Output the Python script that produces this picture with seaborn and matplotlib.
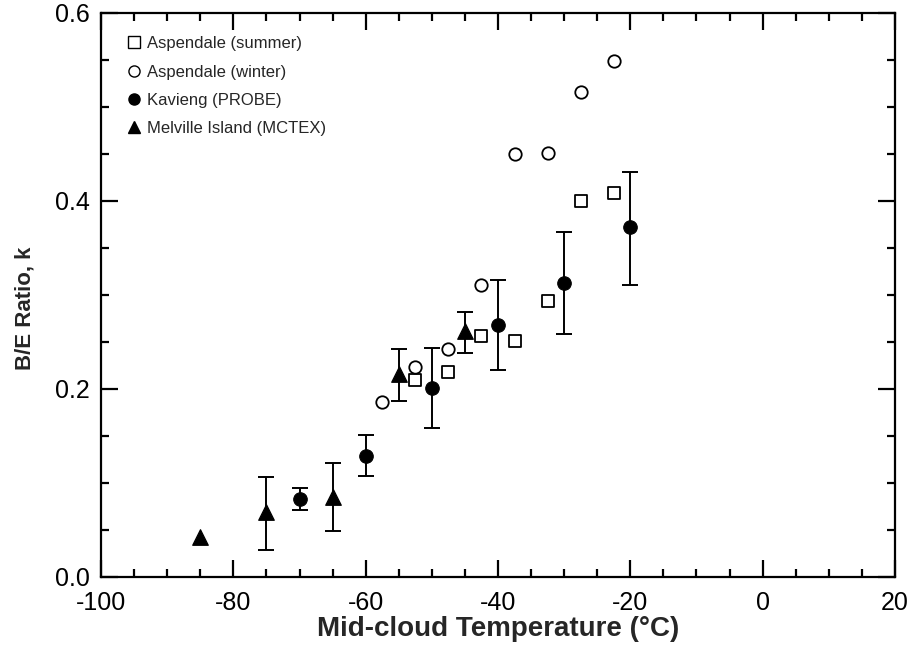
import matplotlib
matplotlib.use("Agg")
import matplotlib.pyplot as plt
import seaborn as sns
import pandas as pd
import numpy as np
from matplotlib.ticker import MultipleLocator, FormatStrFormatter
from matplotlib.lines import Line2D

# ---- data ----
summer_x = [-52.5, -47.5, -42.5, -37.5, -32.5, -27.5, -22.5]
summer_y = [0.210, 0.218, 0.256, 0.251, 0.294, 0.400, 0.409]

winter_x = [-57.5, -52.5, -47.5, -42.5, -37.5, -32.5, -27.5, -22.5]
winter_y = [0.186, 0.223, 0.243, 0.311, 0.450, 0.451, 0.516, 0.549]

kav_x = [-70, -60, -50, -40, -30, -20]
kav_y = [0.083, 0.129, 0.201, 0.268, 0.313, 0.372]
kav_lo = [0.071, 0.107, 0.158, 0.220, 0.259, 0.311]
kav_hi = [0.095, 0.151, 0.244, 0.316, 0.367, 0.431]

mel_x = [-85, -75, -65, -55, -45]
mel_y = [0.043, 0.069, 0.085, 0.216, 0.262]
mel_lo = [0.043, 0.029, 0.049, 0.187, 0.238]
mel_hi = [0.043, 0.106, 0.121, 0.242, 0.282]

labels = ["Aspendale (summer)", "Aspendale (winter)", "Kavieng (PROBE)", "Melville Island (MCTEX)"]

sns.set_style("ticks")
plt.rcParams['font.family'] = ['Liberation Sans', 'DejaVu Sans']
plt.rcParams['axes.unicode_minus'] = False

fig = plt.figure(figsize=(9.1, 6.49), dpi=100)
ax = fig.add_axes([0.111, 0.111, 0.8725, 0.869])

# error bars
ax.errorbar(kav_x, kav_y,
            yerr=[np.array(kav_y) - np.array(kav_lo), np.array(kav_hi) - np.array(kav_y)],
            fmt='none', ecolor='black', elinewidth=1.4, capsize=6, capthick=1.4, zorder=2)
ax.errorbar(mel_x[1:], mel_y[1:],
            yerr=[np.array(mel_y[1:]) - np.array(mel_lo[1:]), np.array(mel_hi[1:]) - np.array(mel_y[1:])],
            fmt='none', ecolor='black', elinewidth=1.4, capsize=6, capthick=1.4, zorder=2)

summer_df = pd.DataFrame({'T': summer_x, 'k': summer_y})
winter_df = pd.DataFrame({'T': winter_x, 'k': winter_y})
kav_df = pd.DataFrame({'T': kav_x, 'k': kav_y})
mel_df = pd.DataFrame({'T': mel_x, 'k': mel_y})

sns.scatterplot(data=summer_df, x='T', y='k', marker='s', s=72,
                facecolor='white', edgecolor='black', linewidth=1.3, ax=ax, zorder=3, legend=False)
sns.scatterplot(data=winter_df, x='T', y='k', marker='o', s=80,
                facecolor='white', edgecolor='black', linewidth=1.3, ax=ax, zorder=3, legend=False)
sns.scatterplot(data=kav_df, x='T', y='k', marker='o', s=95, color='black', edgecolor='black',
                ax=ax, zorder=3, legend=False)
sns.scatterplot(data=mel_df, x='T', y='k', marker='^', s=125, color='black', edgecolor='black',
                ax=ax, zorder=3, legend=False)

ax.set_xlim(-100, 20)
ax.set_ylim(0.0, 0.6)
ax.xaxis.set_major_locator(MultipleLocator(20))
ax.xaxis.set_minor_locator(MultipleLocator(5))
ax.yaxis.set_major_locator(MultipleLocator(0.2))
ax.yaxis.set_minor_locator(MultipleLocator(0.05))
ax.yaxis.set_major_formatter(FormatStrFormatter('%.1f'))
ax.tick_params(which='both', direction='in', top=True, right=True, width=1.6, labelsize=18, colors='black')
ax.tick_params(which='major', length=12)
ax.tick_params(which='minor', length=6)
ax.tick_params(axis='x', which='major', pad=10)
ax.tick_params(axis='y', which='major', pad=8)
for s in ax.spines.values():
    s.set_linewidth(1.6)
    s.set_color('black')

ax.set_xlabel("Mid-cloud Temperature (°C)", fontsize=20, fontweight='bold', labelpad=1)
ax.set_ylabel("B/E Ratio, k", fontsize=16, fontweight='bold')
ax.yaxis.set_label_coords(-0.082, 0.477)

handles = [
    Line2D([], [], marker='s', ls='none', mfc='white', mec='black', ms=8, mew=1),
    Line2D([], [], marker='o', ls='none', mfc='white', mec='black', ms=8, mew=1),
    Line2D([], [], marker='o', ls='none', mfc='black', mec='black', ms=8),
    Line2D([], [], marker='^', ls='none', mfc='black', mec='black', ms=9),
]
ax.legend(handles, labels, loc='upper left', frameon=False, fontsize=12,
          handletextpad=0.15, labelspacing=0.8, borderaxespad=1.0, handlelength=1.2)

fig.savefig("out.png", dpi=100)
